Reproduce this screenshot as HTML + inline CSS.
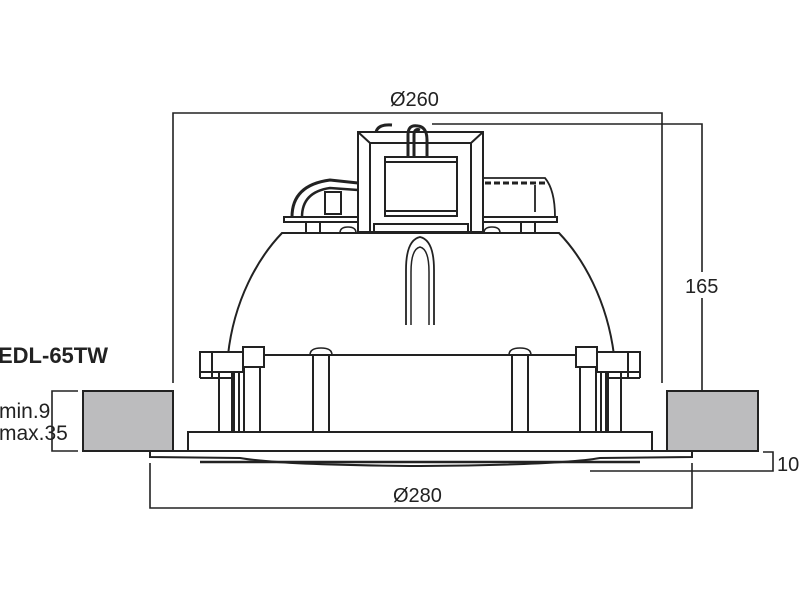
<!DOCTYPE html>
<html><head><style>body{margin:0;background:#fff}svg{display:block}text{font-family:"Liberation Sans",sans-serif;fill:#222}</style></head>
<body>
<svg width="800" height="600" viewBox="0 0 800 600" xmlns="http://www.w3.org/2000/svg">
<g fill="none" stroke="#222" stroke-width="2">
<polyline points="173,383 173,113 662,113 662,383" stroke-width="1.6"/>
<polyline points="432,124 702,124 702,445" stroke-width="1.6"/>
<polyline points="150,463 150,508 692,508 692,463" stroke-width="1.6"/>
<polyline points="590,471 773,471 773,452 763,452" stroke-width="1.6"/>
<polyline points="78,391 52,391 52,451 78,451" stroke-width="1.6"/>
<rect x="83" y="391" width="90" height="60" fill="#bcbcbe"/>
<rect x="667" y="391" width="91" height="60" fill="#bcbcbe"/>
<path d="M228,355 C234,300 258,258 282,233 L559,233 C583,258 607,300 614,355" fill="#fff"/>
<line x1="205" y1="355" x2="640" y2="355"/>
<path d="M406,325 L406,270 Q406,240 420,237 Q434,240 434,270 L434,325" stroke-width="1.8"/>
<path d="M411,325 L411,272 Q411,249 420,247 Q429,249 429,272 L429,325" stroke-width="1.5"/>
<rect x="284" y="217" width="273" height="5"/>
<rect x="306" y="222" width="14" height="11"/><rect x="521" y="222" width="14" height="11"/>
<path d="M340,233 q0,-6 8,-6 q8,0 8,6 M484,233 q0,-6 8,-6 q8,0 8,6" stroke-width="1.6"/>
<path d="M292,217 Q292,185 330,180 L358,183" stroke-width="3"/>
<path d="M302,217 Q302,192 330,188 L358,190" stroke-width="2.5"/>
<rect x="325" y="192" width="16" height="22"/>
<path d="M483,178 L545,178 Q555,190 555,217 M535,185 L535,212" stroke-width="1.8"/>
<line x1="485" y1="183" x2="545" y2="183" stroke-dasharray="6,3" stroke-width="3"/>
<rect x="358" y="132" width="125" height="100" fill="#fff"/>
<path d="M370,232 L370,143 L471,143 L471,232 M358,132 L370,143 M483,132 L471,143"/>
<rect x="385" y="157" width="72" height="59"/>
<line x1="385" y1="162" x2="457" y2="162"/><line x1="385" y1="211" x2="457" y2="211"/>
<rect x="374" y="224" width="94" height="8"/>
<path d="M376,132 Q378,124 392,125 M408,157 L408,135 Q408,124 418,126 Q427,127 427,140 L427,157 M414,157 L414,135 Q414,128 420,130" stroke-width="3"/>
<rect x="313" y="355" width="16" height="77" fill="#fff"/><rect x="512" y="355" width="16" height="77" fill="#fff"/>
<path d="M310,355 q0,-7 11,-7 q11,0 11,7 M509,355 q0,-7 11,-7 q11,0 11,7" stroke-width="1.6"/>
<rect x="219" y="372" width="13" height="60"/><rect x="234" y="372" width="5" height="60"/><rect x="244" y="367" width="16" height="65"/>
<rect x="200" y="352" width="43" height="20" fill="#fff"/><rect x="243" y="347" width="21" height="20" fill="#fff"/>
<line x1="200" y1="372" x2="200" y2="378"/><line x1="200" y1="378" x2="232" y2="378"/><line x1="212" y1="352" x2="212" y2="378"/>
<rect x="608" y="372" width="13" height="60"/><rect x="601" y="372" width="5" height="60"/><rect x="580" y="367" width="16" height="65"/>
<rect x="597" y="352" width="43" height="20" fill="#fff"/><rect x="576" y="347" width="21" height="20" fill="#fff"/>
<line x1="640" y1="372" x2="640" y2="378"/><line x1="608" y1="378" x2="640" y2="378"/><line x1="628" y1="352" x2="628" y2="378"/>
<rect x="188" y="432" width="464" height="19" fill="#fff"/>
<path d="M150,451 L692,451 L692,457 L600,458 Q560,465 420,466 Q280,465 240,458 L150,457 Z" fill="#fff"/>
<line x1="200" y1="462" x2="640" y2="462" stroke-width="2.5"/>
</g>
<rect x="684" y="272" width="38" height="26" fill="#fff"/>
<text x="390" y="106" font-size="20">Ø260</text>
<text x="685" y="293" font-size="20">165</text>
<text x="393" y="502" font-size="20">Ø280</text>
<text x="777" y="471" font-size="20">10</text>
<text x="-2" y="363" font-size="22" font-weight="bold">EDL-65TW</text>
<text x="-1" y="418" font-size="21">min.9</text>
<text x="-1" y="440" font-size="21">max.35</text>
</svg>
</body></html>
